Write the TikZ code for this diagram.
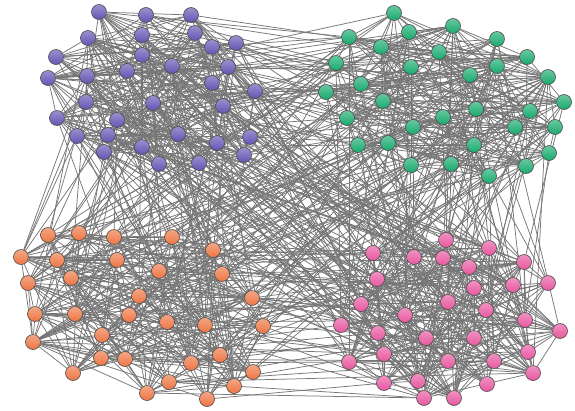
\documentclass[tikz,border=0pt]{standalone}
\usetikzlibrary{backgrounds}

\definecolor{purcol}{RGB}{100,84,180}
\definecolor{grncol}{RGB}{24,170,110}
\definecolor{orgcol}{RGB}{238,118,68}
\definecolor{pnkcol}{RGB}{232,88,160}
\definecolor{edgecol}{RGB}{118,118,118}

\tikzset{
  ball/.style={circle,draw=black!70,line width=0.6pt,minimum size=15pt,inner sep=0pt},
  pur/.style={ball,top color=purcol!65!white,bottom color=purcol},
  grn/.style={ball,top color=grncol!65!white,bottom color=grncol},
  org/.style={ball,top color=orgcol!65!white,bottom color=orgcol},
  pnk/.style={ball,top color=pnkcol!65!white,bottom color=pnkcol},
  link/.style={draw=edgecol,line width=0.75pt}
}

\begin{document}
\begin{tikzpicture}[x=1pt,y=-1pt]
  \useasboundingbox (0,0) rectangle (575,410);

  \foreach \x/\y [count=\i] in {99/12,146/15,191/15,88/38,142/35,195/33,212/47,236/43,
      56/57,142/55,48/78,87/76,127/71,172/66,228/67,212/83,255/91,86/102,153/103,
      223/106,57/118,117/120,77/136,108/135,178/134,250/137,104/152,142/147,217/143,
      244/155,159/164,199/163}
    \node[pur] (pur\i) at (\x,\y) {};
  \foreach \x/\y [count=\i] in {394/13,409/32,453/26,349/37,381/47,439/52,497/39,527/57,
      336/63,411/67,470/75,497/66,548/77,326/92,361/84,383/101,564/102,347/118,
      443/117,476/109,530/111,413/127,515/127,555/127,358/145,388/143,474/145,
      549/153,411/165,451/164,526/166,489/176}
    \node[grn] (grn\i) at (\x,\y) {};
  \foreach \x/\y [count=\i] in {48/235,79/233,114/237,172/237,213/250,21/257,57/260,
      117/260,159/271,222/274,28/283,71/278,139/296,252/298,35/314,75/314,129/315,
      167/322,205/325,263/326,33/342,102/335,101/358,125/359,191/363,220/355,73/373,
      253/372,169/382,234/386,147/393,207/399}
    \node[org] (org\i) at (\x,\y) {};
  \foreach \x/\y [count=\i] in {446/240,373/253,414/257,443/258,489/248,469/267,524/262,
      377/279,474/288,513/285,548/283,361/304,448/302,486/310,405/315,525/320,
      341/325,378/333,426/338,474/338,560/331,384/354,528/352,349/362,448/361,
      494/361,533/373,384/383,418/381,487/384,424/398,454/398}
    \node[pnk] (pnk\i) at (\x,\y) {};

  \pgfmathsetseed{4711}
  \begin{pgfonlayer}{background}
    % links inside each group
    \foreach \c in {pur,grn,org,pnk}
      \foreach \i in {1,...,31} {
        \pgfmathtruncatemacro\k{\i+1}
        \foreach \j in {\k,...,32} {
          \pgfmathparse{rnd<0.38 ? 1 : 0}
          \ifnum\pgfmathresult=1 \path[link] (\c\i) -- (\c\j); \fi
        }
      }
    % links between groups
    \foreach \a/\b in {pur/grn,pur/org,pur/pnk,grn/org,grn/pnk,org/pnk}
      \foreach \i in {1,...,32}
        \foreach \j in {1,...,32} {
          \pgfmathparse{rnd<0.07 ? 1 : 0}
          \ifnum\pgfmathresult=1 \path[link] (\a\i) -- (\b\j); \fi
        }
  \end{pgfonlayer}
\end{tikzpicture}
\end{document}
